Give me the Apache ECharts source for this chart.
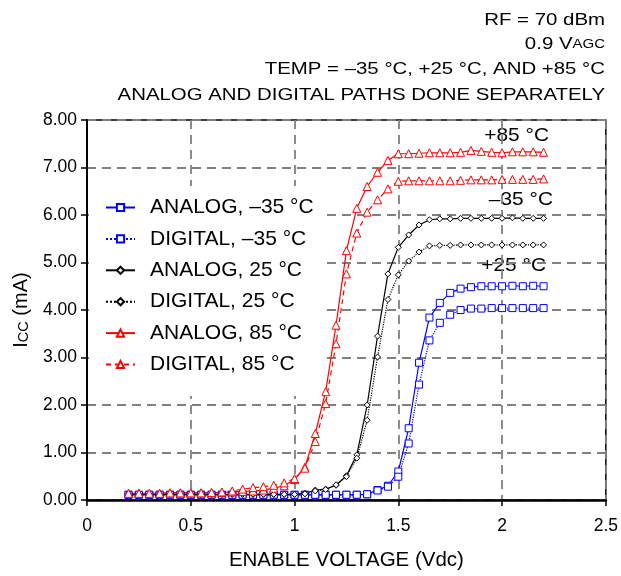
<!DOCTYPE html>
<html><head><meta charset="utf-8">
<script src="https://cdn.jsdelivr.net/npm/echarts@6/dist/echarts.min.js"></script>
<style>html,body{margin:0;padding:0;background:#fff}#c{width:621px;height:576px}</style>
</head><body><div id="c"></div>
<script>
// x values 0.20 .. 2.20 step 0.05 (41 points)
const xValues = [0.20,0.25,0.30,0.35,0.40,0.45,0.50,0.55,0.60,0.65,0.70,0.75,0.80,0.85,0.90,0.95,1.00,1.05,1.10,1.15,1.20,1.25,1.30,1.35,1.40,1.45,1.50,1.55,1.60,1.65,1.70,1.75,1.80,1.85,1.90,1.95,2.00,2.05,2.10,2.15,2.20];
const analogM35 = [0.11,0.11,0.11,0.11,0.11,0.11,0.11,0.11,0.11,0.11,0.11,0.11,0.11,0.11,0.11,0.11,0.11,0.11,0.11,0.11,0.11,0.11,0.11,0.12,0.21,0.30,0.60,1.51,2.89,3.84,4.15,4.36,4.45,4.48,4.50,4.50,4.50,4.51,4.50,4.51,4.50];
const digitalM35 = [0.11,0.11,0.11,0.11,0.11,0.11,0.11,0.11,0.11,0.11,0.11,0.11,0.11,0.11,0.11,0.11,0.11,0.11,0.11,0.11,0.11,0.11,0.11,0.12,0.20,0.28,0.49,1.19,2.43,3.36,3.73,3.90,4.00,4.03,4.03,4.04,4.04,4.04,4.04,4.04,4.04];
const analog25 = [0.12,0.12,0.12,0.12,0.12,0.12,0.12,0.12,0.12,0.12,0.12,0.12,0.12,0.12,0.12,0.12,0.12,0.14,0.21,0.23,0.31,0.51,0.95,2.00,3.45,4.76,5.32,5.58,5.79,5.90,5.92,5.92,5.93,5.93,5.93,5.93,5.93,5.94,5.93,5.93,5.93];
const digital25 = [0.12,0.12,0.12,0.12,0.12,0.12,0.12,0.12,0.12,0.12,0.12,0.12,0.12,0.12,0.12,0.12,0.12,0.13,0.19,0.22,0.32,0.49,0.88,1.68,3.01,4.22,4.74,5.03,5.22,5.35,5.36,5.36,5.37,5.37,5.37,5.37,5.37,5.37,5.37,5.37,5.37];
const analog85 = [0.14,0.14,0.14,0.14,0.15,0.15,0.15,0.15,0.15,0.16,0.17,0.18,0.19,0.21,0.25,0.30,0.43,0.69,1.40,2.28,3.68,5.25,6.14,6.60,6.90,7.15,7.29,7.29,7.30,7.31,7.31,7.31,7.32,7.36,7.34,7.32,7.31,7.33,7.33,7.33,7.32];
const digital85 = [0.14,0.14,0.14,0.14,0.15,0.15,0.15,0.15,0.16,0.17,0.19,0.23,0.26,0.28,0.31,0.36,0.45,0.67,1.23,2.03,3.29,4.76,5.62,6.06,6.32,6.55,6.71,6.72,6.72,6.72,6.72,6.72,6.73,6.74,6.74,6.74,6.75,6.75,6.75,6.75,6.76];
const seriesNames = ['ANALOG, \u201335 \u00b0C','DIGITAL, \u201335 \u00b0C','ANALOG, 25 \u00b0C','DIGITAL, 25 \u00b0C','ANALOG, 85 \u00b0C','DIGITAL, 85 \u00b0C'];
const curveLabels = ['+85 \u00b0C','\u201335 \u00b0C','+25 \u00b0C'];
const titleLines = ['RF = 70 dBm','0.9 {v|V}{s|AGC}','TEMP = \u201335 \u00b0C, +25 \u00b0C, AND +85 \u00b0C','ANALOG AND DIGITAL PATHS DONE SEPARATELY'];
const xTicks = [0,0.5,1,1.5,2,2.5];
const yTicks = [0,1,2,3,4,5,6,7,8];

const FONT = '"Liberation Sans", Arial, sans-serif';
const pairs = a => xValues.map((x,i)=>[x,a[i]]);
function mk(name, data, color, symbol, size, ltype){
  return {name, type:'line', data:pairs(data), symbol, symbolSize:size, showSymbol:true,
    itemStyle:{color:'#fff', borderColor:color, borderWidth:1}, lineStyle:{color, width:1.2, type:ltype},
    emphasis:{disabled:true}, animation:false, z:3};
}
const titleY = [20, 44.7, 69.5, 95.5];
const graphics = titleLines.map((t,i)=>({
  type:'text', x:605, y:titleY[i], scaleX:1.2, scaleY:1,
  style:{text:t, textAlign:'right', textVerticalAlign:'middle', font:'17px '+FONT, fill:'#000',
    rich:{v:{fontSize:17, fontFamily:FONT, fill:'#000', lineHeight:18}, s:{fontSize:12.5, fontFamily:FONT, fill:'#000', lineHeight:18}}}
}));
const annX = [549, 553, 546], annY = [135.5, 199.5, 266];
curveLabels.forEach((t,i)=>graphics.push({
  type:'text', x:annX[i], y:annY[i], scaleX:1.1, scaleY:1,
  style:{text:t, textAlign:'right', textVerticalAlign:'middle', font:'19px '+FONT, fill:'#000'}
}));

const chart = echarts.init(document.getElementById('c'));
chart.setOption({
  backgroundColor:'#fff',
  animation:false,
  textStyle:{fontFamily:FONT},
  grid:{left:87, right:8, top:120, bottom:75, show:true, borderColor:'#000', borderWidth:1.5, backgroundColor:'transparent'},
  legend:{
    orient:'vertical', left:89, top:186, itemGap:10.4, itemWidth:29, itemHeight:9,
    padding:[11,8,21,16], backgroundColor:'#fff', borderWidth:0,
    textStyle:{fontFamily:FONT, fontSize:21, color:'#000', padding:[0,0,0,10]},
    data: seriesNames, selectedMode:false
  },
  xAxis:{
    type:'value', min:0, max:2.5, interval:0.5,
    name:'ENABLE VOLTAGE (Vdc)', nameLocation:'middle', nameGap:50,
    nameTextStyle:{fontFamily:FONT, fontSize:20.5, color:'#000'},
    axisLine:{show:true, onZero:false, lineStyle:{color:'#000', width:2.5}},
    axisTick:{show:true, length:6, inside:false, lineStyle:{color:'#000', width:1.5}},
    axisLabel:{fontFamily:FONT, fontSize:17.5, color:'#000', margin:17, formatter:v=>xTicks.includes(v)?String(v):''},
    splitLine:{show:true, lineStyle:{color:'#808080', width:1.8, type:[9,6]}}
  },
  yAxis:{
    type:'value', min:0, max:8, interval:1,
    name:'{i|I}{cc|CC} {i|(mA)}', nameLocation:'middle', nameGap:56, nameRotate:90,
    nameTextStyle:{fontFamily:FONT, fontSize:20, color:'#000', rich:{i:{fontSize:20,fontFamily:FONT,color:'#000'}, cc:{fontSize:14.5,fontFamily:FONT,color:'#000', verticalAlign:'bottom'}}},
    axisLine:{show:true, lineStyle:{color:'#000', width:2}},
    axisTick:{show:true, length:6, lineStyle:{color:'#000', width:1.5}},
    axisLabel:{fontFamily:FONT, fontSize:17.5, color:'#000', margin:10, formatter:v=>yTicks.includes(v)?v.toFixed(2):''},
    splitLine:{show:true, lineStyle:{color:'#808080', width:1.8, type:[9,6]}}
  },
  series:[
    mk(seriesNames[0], analogM35, '#0000ff', 'rect', 7, 'solid'),
    mk(seriesNames[1], digitalM35, '#0000ff', 'rect', 7, 'dotted'),
    mk(seriesNames[2], analog25, '#000000', 'diamond', 6, 'solid'),
    mk(seriesNames[3], digital25, '#000000', 'diamond', 6, 'dotted'),
    mk(seriesNames[4], analog85, '#ff0000', 'triangle', 8, 'solid'),
    mk(seriesNames[5], digital85, '#ff0000', 'triangle', 8, [5,4])
  ],
  graphic: graphics
});
</script></body></html>
